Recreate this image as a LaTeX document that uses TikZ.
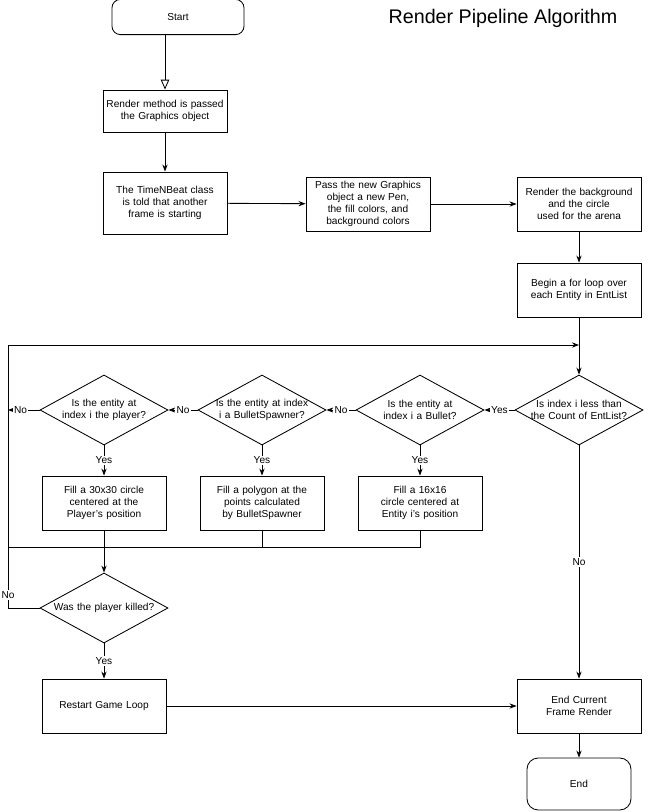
\documentclass[tikz,border=0pt]{standalone}
\usepackage{fontspec}
\setmainfont{Liberation Sans}
\usetikzlibrary{arrows.meta,shapes.geometric}
\begin{document}
\hyphenpenalty=10000
\begin{tikzpicture}[x=0.025cm,y=-0.025cm,font=\fontsize{7.2}{8.6}\selectfont,semithick,
step box/.style={draw,minimum width=3.1cm,minimum height=1.35cm,text width=3.0cm,align=center,inner sep=1pt},
term box/.style={draw,rounded corners=6pt,minimum width=3.3cm,minimum height=0.88cm},
end box/.style={draw,rounded corners=8pt,minimum width=2.6cm,minimum height=1.3cm},
test/.style={draw,diamond,aspect=1.8,minimum width=3.2cm,minimum height=1.75cm,inner sep=-9pt,text width=2.95cm,align=center},
lbl/.style={fill=white,inner sep=1pt}]%
\useasboundingbox (0,0) rectangle (672,812);
\begin{scope}
\node[term box] (start) at (178,17) {Start};
\node[font=\fontsize{14}{16}\selectfont] (title) at (503,18) {Render Pipeline Algorithm};
\node[step box,minimum height=1.05cm] (pass) at (165,111) {Render method is passed the Graphics object};
\node[step box,minimum height=1.55cm] (tell) at (165,203) {The TimeNBeat class is told that another frame is starting};
\node[step box] (pen) at (368,204) {Pass the new Graphics object a new Pen, the fill colors, and background colors};
\node[step box] (back) at (579,204) {Render the background and the circle used for the arena};
\node[step box] (loop) at (579,290) {Begin a for loop over each Entity in EntList};
\node[test] (idx) at (579,410) {Is index i less than the Count of EntList?};
\node[test] (bul) at (420,410) {Is the entity at index i a Bullet?};
\node[test] (spw) at (262,410) {Is the entity at index i a BulletSpawner?};
\node[test] (ply) at (104,410) {Is the entity at index i the player?};
\node[step box] (fply) at (104,503) {Fill a 30x30 circle centered at the Player's position};
\node[step box] (fspw) at (262,503) {Fill a polygon at the points calculated by BulletSpawner};
\node[step box] (fbul) at (420,503) {Fill a 16x16 circle centered at Entity i's position};
\node[test] (kill) at (104,608) {Was the player killed?};
\node[step box] (restart) at (104,706) {Restart Game Loop};
\node[step box] (frame) at (579,706) {End Current Frame Render};
\node[end box] (end) at (579,784) {End};
\coordinate (noend) at (8,410);
\coordinate (left) at (8,345);
\coordinate (top) at (579,345);
\coordinate (join) at (8,547);
\coordinate (kleft) at (8,608);
\end{scope}
\begin{scope}[every edge/.style={draw,semithick,-{Stealth[length=5pt]}}]
\draw[-{Triangle[open,length=7pt,width=6pt]}] (pass.north |- start.south) -- (pass);
\draw (pass) edge (tell);
\draw (tell) edge (pen);
\draw (pen) edge (back);
\draw (back) edge (loop);
\draw (loop) edge (idx);
\draw (idx) edge node[lbl]{Yes} (bul);
\draw (bul) edge node[lbl]{No} (spw);
\draw (spw) edge node[lbl]{No} (ply);
\draw (ply) edge node[lbl,pos=0.6]{No} (noend);
\draw (ply) edge node[lbl]{Yes} (fply);
\draw (spw) edge node[lbl]{Yes} (fspw);
\draw (bul) edge node[lbl]{Yes} (fbul);
\draw (fply) edge (kill);
\draw (kill) edge node[lbl]{Yes} (restart);
\draw (restart) edge (frame);
\draw (idx) edge node[lbl]{No} (frame);
\draw (frame) edge (end);
\draw (fbul) |- (join);
\draw (fspw.south) |- (join);
\draw (kill) -- (kleft) -- (left) edge (top);
\end{scope}
\node[lbl] at (8,595) {No};
\end{tikzpicture}
\end{document}
